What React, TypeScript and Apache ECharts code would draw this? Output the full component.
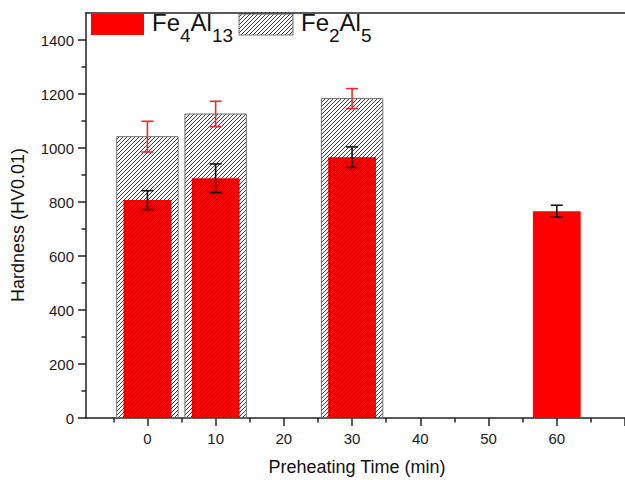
import React, { useEffect, useRef } from 'react';
import * as echarts from 'echarts';

// ---- data ----
const preheatTimes = [0, 10, 30, 60];
const fe4al13Hardness = [807, 888, 966, 766];
const fe4al13Error = [35, 53, 38, 22];
const fe2al5Times = [0, 10, 30];
const fe2al5Hardness = [1042, 1126, 1183];
const fe2al5Error = [57, 47, 37];

const xTickValues = [0, 10, 20, 30, 40, 50, 60, 70];
const xLabelValues = [0, 10, 20, 30, 40, 50, 60];
const xMinorValues = [-5, 5, 15, 25, 35, 45, 55, 65];
const yTickValues = [0, 200, 400, 600, 800, 1000, 1200, 1400];
const yMinorValues = [100, 300, 500, 700, 900, 1100, 1300];

const FONT = '"Liberation Sans", Arial, sans-serif';
const AXIS_COLOR = '#222';
const RED = '#ff0000';
const ERR_RED = '#ec2a2e';

function makeHatchCanvas(bg: string | null, lineColor: string): HTMLCanvasElement {
  const c = document.createElement('canvas');
  const s = 4;
  c.width = s;
  c.height = s;
  const ctx = c.getContext('2d')!;
  if (bg) {
    ctx.fillStyle = bg;
    ctx.fillRect(0, 0, s, s);
  }
  ctx.strokeStyle = lineColor;
  ctx.lineWidth = 1;
  ctx.beginPath();
  ctx.moveTo(-1, s + 1);
  ctx.lineTo(s + 1, -1);
  ctx.moveTo(-1, 1);
  ctx.lineTo(1, -1);
  ctx.moveTo(s - 1, s + 1);
  ctx.lineTo(s + 1, s - 1);
  ctx.stroke();
  return c;
}

export default function App() {
  const ref = useRef<HTMLDivElement>(null);
  useEffect(() => {
    if (!ref.current) return;
    const chart = echarts.init(ref.current, null, { renderer: 'svg' });
    const hatchCanvas = makeHatchCanvas(null, '#3a3a3a');
    const redHatchCanvas = makeHatchCanvas(RED, '#2a0000');
    const hatchFill = () => ({ image: hatchCanvas, repeat: 'repeat' });
    const redHatchFill = () => ({ image: redHatchCanvas, repeat: 'repeat' });

    // [time, Fe4Al13 hardness, 1 if an Fe2Al5 bar overlays it]
    const redData = preheatTimes.map((t, i) => [t, fe4al13Hardness[i], fe2al5Times.indexOf(t) >= 0 ? 1 : 0]);
    const hatchData = fe2al5Times.map((t, i) => [t, fe2al5Hardness[i]]);
    const redErr = preheatTimes.map((t, i) => [t, fe4al13Hardness[i], fe4al13Error[i]]);
    const hatchErr = fe2al5Times.map((t, i) => [t, fe2al5Hardness[i], fe2al5Error[i]]);

    const errRender = (color: string) => (params: any, api: any) => {
      const x = api.value(0);
      const v = api.value(1);
      const e = api.value(2);
      const top = api.coord([x, v + e]);
      const bot = api.coord([x, v - e]);
      const hw = 6;
      const st = () => ({ stroke: color, lineWidth: 1.6 });
      return {
        type: 'group',
        children: [
          { type: 'line', shape: { x1: top[0], y1: top[1], x2: bot[0], y2: bot[1] }, style: st() },
          { type: 'line', shape: { x1: top[0] - hw, y1: top[1], x2: top[0] + hw, y2: top[1] }, style: st() },
          { type: 'line', shape: { x1: bot[0] - hw, y1: bot[1], x2: bot[0] + hw, y2: bot[1] }, style: st() },
        ],
      };
    };

    const axisLineStyle = { color: AXIS_COLOR, width: 1.5 };

    const option: any = {
      animation: false,
      backgroundColor: '#fff',
      grid: { left: 86, top: 13, width: 553, height: 405, containLabel: false },
      xAxis: [
        {
          type: 'value', min: -9, max: 70, position: 'bottom',
          axisLine: { show: true, onZero: false, lineStyle: axisLineStyle },
          axisTick: { show: true, inside: false, length: 8, customValues: xTickValues, lineStyle: axisLineStyle },
          axisLabel: { show: true, customValues: xLabelValues, margin: 13, fontSize: 15, fontFamily: FONT, color: '#1a1a1a', formatter: (v: number) => String(v) },
          splitLine: { show: false },
        },
        {
          type: 'value', min: -9, max: 70, position: 'bottom',
          axisLine: { show: false, onZero: false },
          axisTick: { show: true, inside: false, length: 4.5, customValues: xMinorValues, lineStyle: axisLineStyle },
          axisLabel: { show: false },
          splitLine: { show: false },
        },
        {
          type: 'value', min: -9, max: 70, position: 'top',
          axisLine: { show: true, onZero: false, lineStyle: axisLineStyle },
          axisTick: { show: false },
          axisLabel: { show: false },
          splitLine: { show: false },
        },
      ],
      yAxis: [
        {
          type: 'value', min: 0, max: 1500, position: 'left',
          axisLine: { show: true, onZero: false, lineStyle: axisLineStyle },
          axisTick: { show: true, inside: false, length: 8, customValues: yTickValues, lineStyle: axisLineStyle },
          axisLabel: { show: true, customValues: yTickValues, margin: 12, fontSize: 15, fontFamily: FONT, color: '#1a1a1a', formatter: (v: number) => String(v) },
          splitLine: { show: false },
        },
        {
          type: 'value', min: 0, max: 1500, position: 'left',
          axisLine: { show: false, onZero: false },
          axisTick: { show: true, inside: false, length: 4.5, customValues: yMinorValues, lineStyle: axisLineStyle },
          axisLabel: { show: false },
          splitLine: { show: false },
        },
      ],
      series: [
        {
          name: 'Fe2Al5',
          type: 'custom',
          encode: { x: 0, y: 1 },
          z: 2,
          data: hatchData,
          renderItem: (params: any, api: any) => {
            const x = api.value(0);
            const v = api.value(1);
            const tl = api.coord([x - 4.5, v]);
            const br = api.coord([x + 4.5, 0]);
            return {
              type: 'rect',
              shape: { x: tl[0], y: tl[1], width: br[0] - tl[0], height: br[1] - tl[1] },
              style: { fill: hatchFill(), stroke: '#6e6e6e', lineWidth: 1 },
            };
          },
        },
        {
          name: 'Fe4Al13',
          type: 'custom',
          encode: { x: 0, y: 1 },
          z: 3,
          data: redData,
          renderItem: (params: any, api: any) => {
            const x = api.value(0);
            const v = api.value(1);
            const overlaid = api.value(2) === 1;
            const tl = api.coord([x - 3.5, v]);
            const br = api.coord([x + 3.5, 0]);
            return {
              type: 'rect',
              shape: { x: tl[0], y: tl[1], width: br[0] - tl[0], height: br[1] - tl[1] },
              style: { fill: overlaid ? redHatchFill() : RED },
            };
          },
        },
        {
          name: 'Fe4Al13 error',
          type: 'custom',
          encode: { x: 0, y: 1 },
          z: 8,
          data: redErr,
          renderItem: errRender('#111'),
        },
        {
          name: 'Fe2Al5 error',
          type: 'custom',
          encode: { x: 0, y: 1 },
          z: 8,
          data: hatchErr,
          renderItem: errRender(ERR_RED),
        },
      ],
      graphic: [
        { type: 'rect', shape: { x: 91, y: 14, width: 53, height: 21 }, style: { fill: RED } },
        {
          type: 'text', x: 152, y: 7,
          style: {
            text: '{a|Fe}{b|4}{a|Al}{b|13}',
            verticalAlign: 'top',
            fill: '#111',
            rich: {
              a: { fontSize: 24, fontFamily: FONT, lineHeight: 30, fill: '#111' },
              b: { fontSize: 19, fontFamily: FONT, lineHeight: 19, padding: [19, 0, 0, 0], verticalAlign: 'top', fill: '#111' },
            },
          },
        },
        { type: 'rect', shape: { x: 239, y: 14, width: 54, height: 21 }, style: { fill: hatchFill(), stroke: '#6e6e6e', lineWidth: 1 } },
        {
          type: 'text', x: 301, y: 7,
          style: {
            text: '{a|Fe}{b|2}{a|Al}{b|5}',
            verticalAlign: 'top',
            fill: '#111',
            rich: {
              a: { fontSize: 24, fontFamily: FONT, lineHeight: 30, fill: '#111' },
              b: { fontSize: 19, fontFamily: FONT, lineHeight: 19, padding: [19, 0, 0, 0], verticalAlign: 'top', fill: '#111' },
            },
          },
        },
        {
          type: 'text', x: 18, y: 225, rotation: Math.PI / 2,
          style: { text: 'Hardness (HV0.01)', fontSize: 18, fontFamily: FONT, fill: '#111', align: 'center', verticalAlign: 'middle' },
        },
        {
          type: 'text', x: 357, y: 467,
          style: { text: 'Preheating Time (min)', fontSize: 18, fontFamily: FONT, fill: '#111', align: 'center', verticalAlign: 'middle' },
        },
      ],
    };
    chart.setOption(option);
    return () => chart.dispose();
  }, []);
  return (
    <div
      ref={ref}
      style={{ width: 625, height: 480, position: 'absolute', left: 0, top: 0, background: '#fff' }}
    />
  );
}
